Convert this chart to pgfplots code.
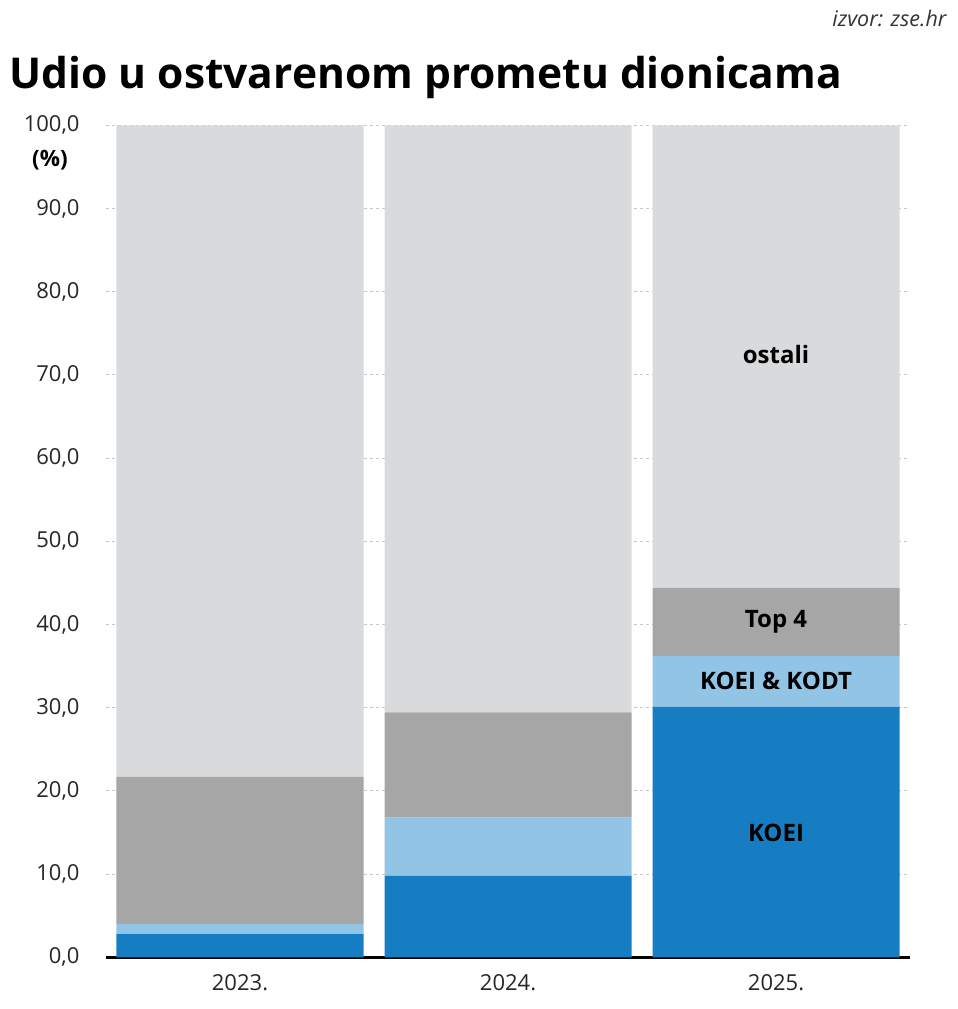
\documentclass[border=0pt]{standalone}
\usepackage{pgfplots}
\pgfplotsset{compat=1.18}
\usepackage{fontspec}
\setmainfont{Open Sans}
\definecolor{koei}{RGB}{23,125,195}
\definecolor{kodt}{RGB}{146,196,230}
\definecolor{topf}{RGB}{166,166,166}
\definecolor{ostali}{RGB}{217,218,220}
\definecolor{gridc}{RGB}{200,200,200}
\begin{document}
\begin{tikzpicture}[x=1pt,y=1pt]
\useasboundingbox (-106,-51.7) rectangle (852,957.3);
\begin{axis}[
  at={(0,0)}, anchor=south west,
  scale only axis,
  width=804pt, height=832pt,
  ybar stacked,
  bar width=247pt,
  xmin=-0.5, xmax=2.5,
  ymin=0, ymax=100,
  xtick={0,1,2},
  xticklabels={2023.,2024.,2025.},
  ytick={0,10,...,100},
  major tick length=0pt,
  axis x line*=bottom,
  axis y line*=left,
  y axis line style={draw=none},
  x axis line style={line width=2.5pt, black},
  ymajorgrids,
  grid style={gridc, dashed, line width=0.8pt},
  yticklabel style={/pgf/number format/fixed, /pgf/number format/fixed zerofill, /pgf/number format/precision=1, /pgf/number format/use comma, /pgf/number format/assume math mode=true, xshift=-23pt},
  ticklabel style={font=\fontsize{22}{26}\selectfont, text=black!85},
  xticklabel style={yshift=-14pt},
  every axis plot/.append style={draw=none},
  clip=false,
]
\addplot[fill=koei] coordinates {(0,2.8) (1,9.8) (2,30.1)};
\addplot[fill=kodt] coordinates {(0,1.2) (1,7.0) (2,6.1)};
\addplot[fill=topf] coordinates {(0,17.7) (1,12.65) (2,8.2)};
\addplot[fill=ostali] coordinates {(0,78.3) (1,70.55) (2,55.6)};
\coordinate (Lo) at (axis cs:2,72.4);
\coordinate (Lt) at (axis cs:2,40.3);
\coordinate (Lk) at (axis cs:2,33.2);
\coordinate (Le) at (axis cs:2,15.0);
\end{axis}
\node[font=\fontsize{24}{28}\selectfont\bfseries] at (Lo) {ostali};
\node[font=\fontsize{24}{28}\selectfont\bfseries] at (Lt) {Top 4};
\node[font=\fontsize{24}{28}\selectfont\bfseries] at (Lk) {KOEI \& KODT};
\node[font=\fontsize{24}{28}\selectfont\bfseries] at (Le) {KOEI};
\node[anchor=base west, font=\fontsize{42.5}{48}\selectfont\bfseries] at (-100,868.5) {Udio u ostvarenom prometu dionicama};
\node[font=\fontsize{22.5}{26}\selectfont\bfseries] at (-56,797) {(\%)};
\node[anchor=base east, font=\fontsize{21.5}{24}\selectfont\itshape, text=black!80] at (844,931) {izvor: zse.hr};
\end{tikzpicture}
\end{document}
